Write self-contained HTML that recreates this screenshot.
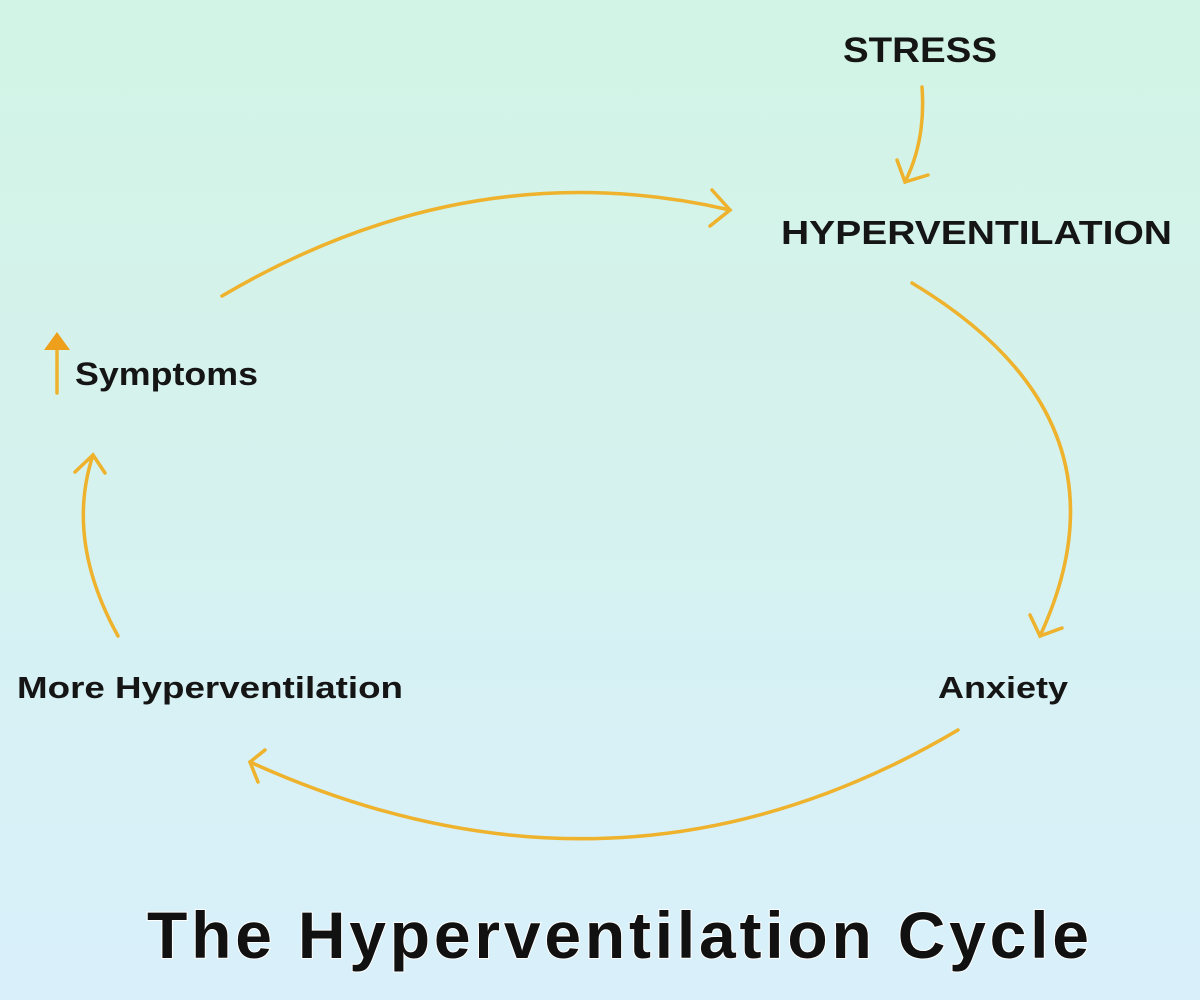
<!DOCTYPE html>
<html><head><meta charset="utf-8"><style>
html,body{margin:0;padding:0;width:1200px;height:1000px;overflow:hidden}
body{background:linear-gradient(180deg,#d2f4e6 0%,#d5f2ec 40%,#d7f1f6 75%,#d9f0fa 100%)}
svg{display:block}
text{font-family:"Liberation Sans",sans-serif;fill:#151515}
</style></head><body>
<svg width="1200" height="1000" viewBox="0 0 1200 1000">
<g fill="none" stroke="#eeb22c" stroke-width="3.5" stroke-linecap="round">
<path d="M922 87 Q926 140 905 182"/><path d="M897 160 L905 182 L928 175"/>
<path d="M222 296 Q470 150 730 210"/><path d="M712 190 L730 210 L710 226"/>
<path d="M912 283 Q1140 420 1040 636"/><path d="M1030 615 L1040 636 L1062 628"/>
<path d="M958 730 Q620 930 250 762"/><path d="M265 750 L250 762 L258 782"/>
<path d="M118 636 Q65 540 93 455"/><path d="M75 472 L93 455 L105 473"/>
<path d="M57 393 L57 336"/>
</g>
<path d="M44 350 L57 332 L70 350 Z" fill="#eea01c"/>
<text x="843" y="62" font-size="35" font-weight="bold" textLength="154" lengthAdjust="spacingAndGlyphs">STRESS</text>
<text x="781" y="244" font-size="33" font-weight="bold" textLength="391" lengthAdjust="spacingAndGlyphs">HYPERVENTILATION</text>
<text x="75" y="385" font-size="32" font-weight="bold" textLength="183" lengthAdjust="spacingAndGlyphs">Symptoms</text>
<text x="17" y="698" font-size="31" font-weight="bold" textLength="386" lengthAdjust="spacingAndGlyphs">More Hyperventilation</text>
<text x="938" y="698" font-size="31" font-weight="bold" textLength="130" lengthAdjust="spacingAndGlyphs">Anxiety</text>
<text x="147" y="958" font-size="66" font-weight="bold" textLength="942" lengthAdjust="spacing" style="fill:#111;paint-order:stroke" stroke="#ffffff" stroke-width="2">The Hyperventilation Cycle</text>
</svg>
</body></html>
